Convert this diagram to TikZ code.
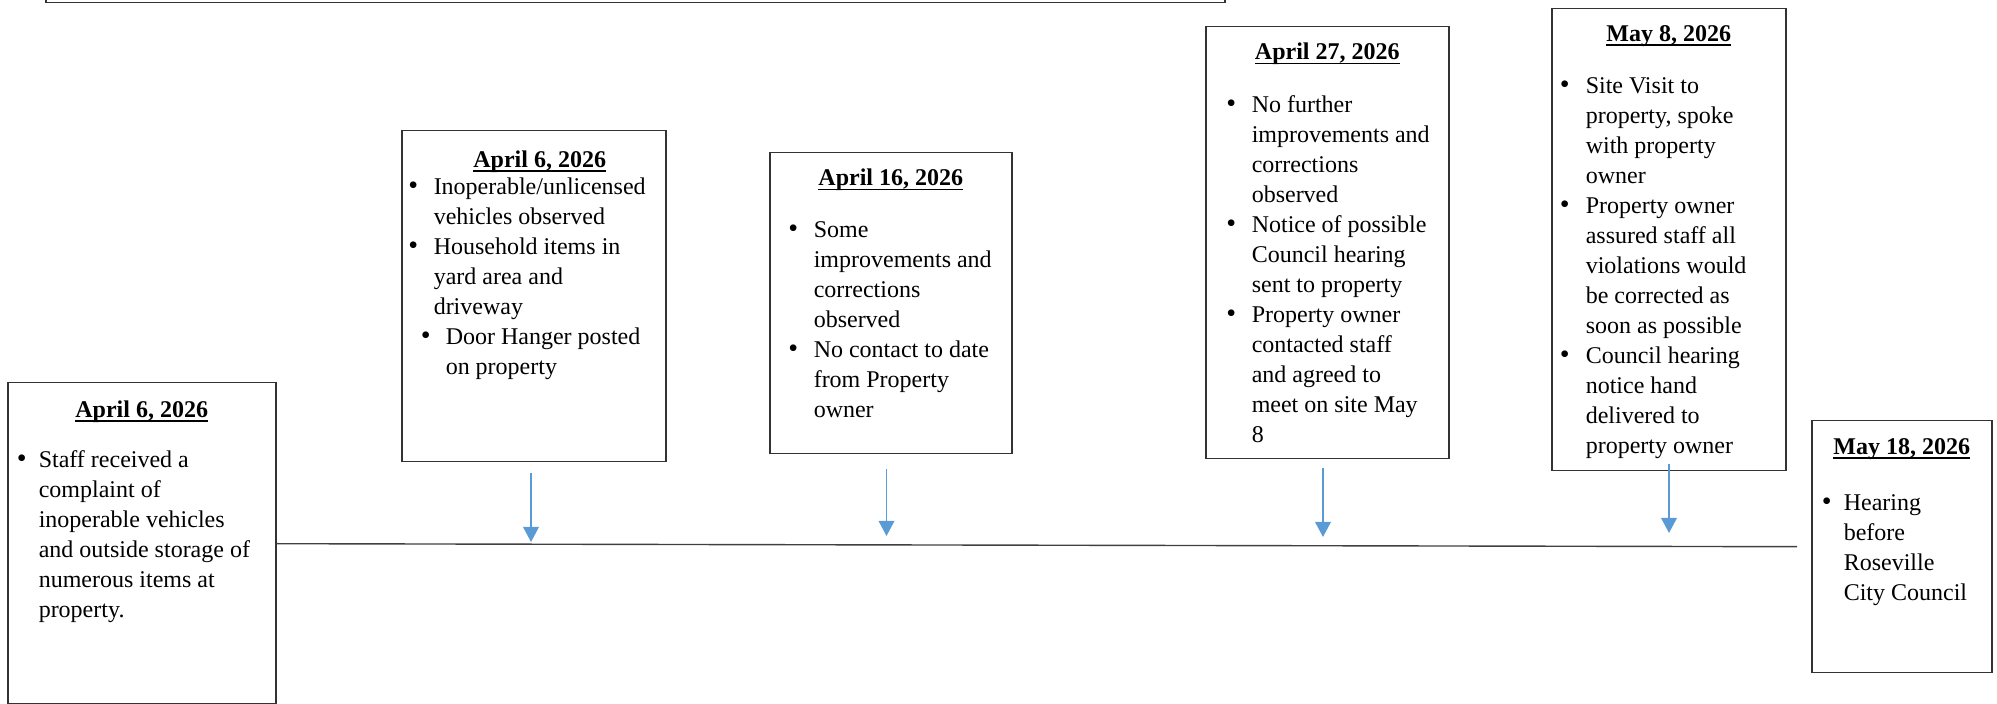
\documentclass[tikz,border=0pt]{standalone}
\usepackage{fontspec}
\setmainfont{Liberation Serif}
\usetikzlibrary{arrows.meta}
\definecolor{tickblue}{HTML}{5B9BD5}
\newlength\bulx
\newlength\txtx
\newlength\ulwd
\newcommand{\setbul}[2]{\setlength\bulx{#1}\setlength\txtx{#2}}
\newcommand{\smallbul}{\fontsize{14}{15}\selectfont\textbullet}
\newcommand{\datehead}[2][0pt]{\settowidth{\ulwd}{\textbf{#2}}%
  {\centering\hspace*{#1}\strut\textbf{#2}\llap{\rule[-2.3pt]{\ulwd}{0.9pt}}\par}}
\newcommand{\bitem}[1]{\hangindent=\txtx\hangafter=1\noindent
  \hbox to\txtx{\hskip\bulx\makebox[0pt]{\smallbul}\hfil}\ignorespaces#1\par}
\newcommand{\cardtext}[4]{\parbox[c][#2][t]{#1}{\rightskip=0pt plus 1fil\relax\vspace*{#3}#4}}

\begin{document}
\begin{tikzpicture}[x=0.5pt,y=-0.5pt,
  datebox/.style={draw=black!80,line width=0.75pt,inner sep=0pt,anchor=north west,
    font=\fontsize{12}{15}\selectfont},
  tick/.style={draw=tickblue,line width=0.75pt,-{Triangle[width=7.8pt,length=7.5pt]}},
  timeline/.style={draw=black!75,line width=0.7pt}]
\useasboundingbox (0,0) rectangle (1997,704);
%box cut off at the top
\draw[black!80,line width=0.75pt](46,0)--(46,2.5)--(1225,2.5)--(1225,0);
%date boxes
\node[datebox] (d1) at (7,382) {\cardtext{134pt}{160.5pt}{6.8pt}{%
  \datehead{April 6, 2026}\vspace{10pt}
  \setbul{7pt}{15.5pt}
  \bitem{Staff received a\\complaint of\\inoperable vehicles\\and outside storage of\\numerous items at\\property.}}};
\node[datebox] (d2) at (401,130) {\cardtext{132pt}{165.5pt}{7.8pt}{%
  \datehead[6pt]{April 6, 2026}\vspace{-1.3pt}
  \setbul{5.8pt}{16pt}
  \bitem{Inoperable/unlicensed\\vehicles observed}
  \bitem{Household items in\\yard area and\\driveway}
  \setbul{12pt}{22pt}
  \bitem{Door Hanger posted\\on property}}};
\node[datebox] (d3) at (769,152) {\cardtext{121pt}{150.5pt}{6pt}{%
  \datehead{April 16, 2026}\vspace{10.8pt}
  \setbul{11.8pt}{22pt}
  \bitem{Some\\improvements and\\corrections\\observed}
  \bitem{No contact to date\\from Property\\owner}}};
\node[datebox] (d4) at (1205,26) {\cardtext{121.5pt}{216pt}{6pt}{%
  \datehead{April 27, 2026}\vspace{11.2pt}
  \setbul{12.7pt}{23pt}
  \bitem{No further\\improvements and\\corrections\\observed}
  \bitem{Notice of possible\\Council hearing\\sent to property}
  \bitem{Property owner\\contacted staff\\and agreed to\\meet on site May\\8}}};
\node[datebox] (d5) at (1551,8) {\cardtext{117pt}{231pt}{5.8pt}{%
  \datehead{May 8, 2026}\vspace{11.2pt}
  \setbul{6.5pt}{17pt}
  \bitem{Site Visit to\\property, spoke\\with property\\owner}
  \bitem{Property owner\\assured staff all\\violations would\\be corrected as\\soon as possible}
  \bitem{Council hearing\\notice hand\\delivered to\\property owner}}};
\node[datebox] (d6) at (1811,420) {\cardtext{90pt}{126pt}{6.3pt}{%
  \datehead{May 18, 2026}\vspace{13pt}
  \setbul{7.5pt}{16pt}
  \bitem{Hearing\\before\\Roseville\\City Council}}};
%timeline
\coordinate (tlend) at (1797,546.7);
\draw[timeline] (d1.east |- 0,543.7) -- (tlend);
%arrows down to the line
\coordinate (tip2) at (531,542);
\coordinate (tip3) at (886.5,536);
\coordinate (tip4) at (1323,537);
\coordinate (tip5) at (1669,533);
\draw[tick] (tip2 |- d2.south) ++(0,11) -- (tip2);
\draw[tick] (tip3 |- d3.south) ++(0,14.5) -- (tip3);
\draw[tick] (tip4 |- d4.south) ++(0,9) -- (tip4);
\draw[tick] (tip5 |- d5.south) ++(0,-7) -- (tip5);
\end{tikzpicture}
\end{document}
